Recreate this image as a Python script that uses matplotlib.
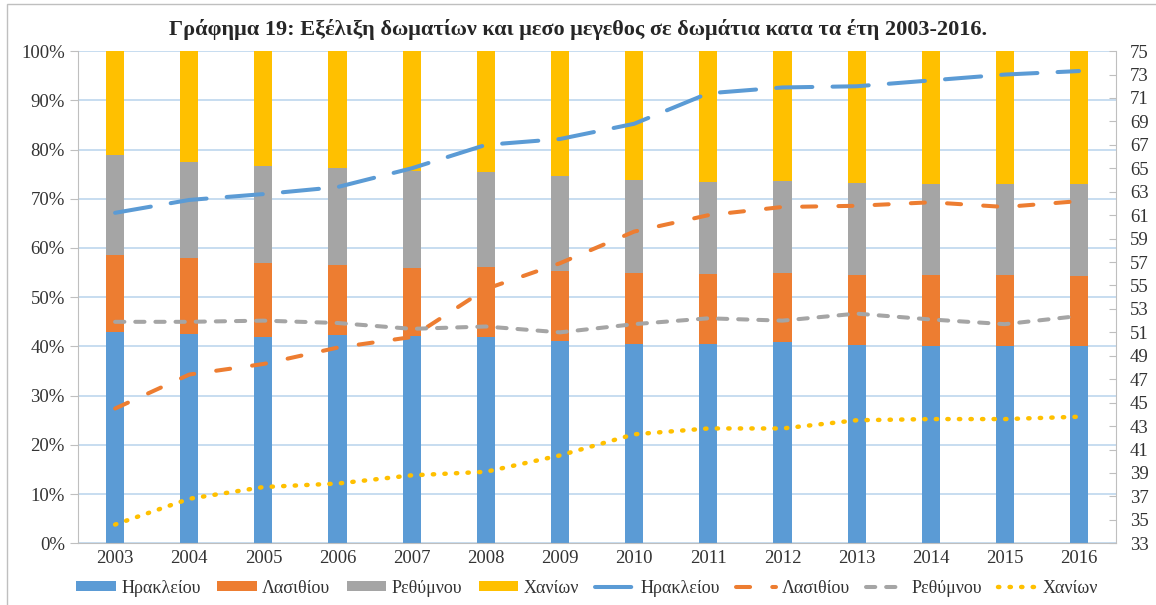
import numpy as np
import matplotlib.pyplot as plt
from matplotlib.ticker import PercentFormatter, MultipleLocator
from matplotlib.patches import Rectangle

# χρονιές
years = ['2003', '2004', '2005', '2006', '2007', '2008', '2009',
         '2010', '2011', '2012', '2013', '2014', '2015', '2016']

# μερίδιο δωματίων ανά νομό (%)
share_her = [43.0, 42.6, 42.0, 42.3, 42.1, 42.0, 41.1, 40.5, 40.5, 40.8, 40.3, 40.1, 40.1, 40.1]
share_las = [15.6, 15.3, 14.9, 14.2, 13.8, 14.1, 14.3, 14.4, 14.3, 14.1, 14.2, 14.4, 14.4, 14.3]
share_ret = [20.3, 19.5, 19.8, 19.8, 19.7, 19.3, 19.3, 19.0, 18.7, 18.7, 18.8, 18.6, 18.6, 18.7]
share_cha = [21.1, 22.6, 23.3, 23.7, 24.4, 24.6, 25.3, 26.1, 26.5, 26.4, 26.7, 26.9, 26.9, 26.9]

# μέσο μέγεθος (δωμάτια ανά μονάδα)
size_her = [61.2, 62.3, 62.8, 63.4, 65.0, 67.0, 67.5, 68.8, 71.4, 71.9, 72.0, 72.5, 73.0, 73.3]
size_las = [44.5, 47.4, 48.3, 49.7, 50.6, 54.7, 56.9, 59.6, 61.0, 61.7, 61.8, 62.1, 61.7, 62.2]
size_ret = [51.9, 51.9, 52.0, 51.8, 51.3, 51.5, 51.0, 51.7, 52.2, 52.0, 52.6, 52.1, 51.7, 52.4]
size_cha = [34.6, 36.8, 37.8, 38.1, 38.8, 39.1, 40.5, 42.3, 42.8, 42.8, 43.5, 43.6, 43.6, 43.8]

names = ['Ηρακλείου', 'Λασιθίου', 'Ρεθύμνου', 'Χανίων']
colors = ['#5B9BD5', '#ED7D31', '#A5A5A5', '#FFC000']

plt.rcParams['font.family'] = ['Liberation Serif', 'DejaVu Serif']

fig = plt.figure(figsize=(11.56, 6.05), dpi=100)
ax = fig.add_axes([0.0675, 0.102, 0.898, 0.8135])

x = np.arange(len(years))
shares = [share_her, share_las, share_ret, share_cha]
bottom = np.zeros(len(years))
bars = []
for s, c, n in zip(shares, colors, names):
    b = ax.bar(x, s, 0.245, bottom=bottom, color=c, label=n, zorder=2)
    bars.append(b)
    bottom = bottom + np.array(s)

ax.set_xlim(-0.5, len(years) - 0.5)
ax.set_ylim(0, 100)
ax.yaxis.set_major_locator(MultipleLocator(10))
ax.yaxis.set_major_formatter(PercentFormatter(decimals=0))
ax.set_xticks(x)
ax.set_xticklabels(years)
ax.grid(axis='y', color='#BDD7EE', lw=1.2, zorder=0)
ax.set_axisbelow(True)
ax.spines['top'].set_visible(False)
for sp in ['left', 'bottom', 'right']:
    ax.spines[sp].set_color('#BFBFBF')
ax.tick_params(axis='y', direction='out', length=6, color='#BFBFBF', labelsize=13.5, labelcolor='#333333')
ax.tick_params(axis='x', length=0, labelsize=13.5, labelcolor='#333333', pad=5)

ax2 = ax.twinx()
ax2.set_ylim(33, 75)
ax2.set_yticks(np.arange(33, 76, 2))
ax2.tick_params(axis='y', direction='in', length=5, color='#BFBFBF', labelsize=13.5, labelcolor='#333333', pad=10)
for sp in ax2.spines.values():
    sp.set_visible(False)

sizes = [size_her, size_las, size_ret, size_cha]
dashes = [(9, 5), (3.5, 5.5), (2.3, 2.7), (0.3, 2.3)]
lines = []
for s, c, n, d in zip(sizes, colors, names, dashes):
    lw = 3.2 if d[0] < 1 else 2.9
    ln, = ax2.plot(x, s, color=c, lw=lw, dashes=d, dash_capstyle='round', label=n, zorder=3)
    lines.append(ln)

fig.suptitle('Γράφημα 19: Εξέλιξη δωματίων και μεσο μεγεθος σε δωμάτια κατα τα έτη 2003-2016.',
             fontsize=16, fontweight='bold', color='#262626', y=0.968)

fig.legend(bars + lines, names + names, loc='center', bbox_to_anchor=(0.508, 0.028), ncol=8,
           frameon=False, fontsize=13, handlelength=2.2, handleheight=0.5,
           columnspacing=0.9, handletextpad=0.3, labelcolor='#333333')

# περίγραμμα γραφήματος
fig.patches.append(Rectangle((7 / 1156, -0.1), 1.2, 1.1 - 4 / 605, transform=fig.transFigure,
                             fill=False, edgecolor='#BFBFBF', lw=1.0))

fig.savefig('out.png', dpi=100)
